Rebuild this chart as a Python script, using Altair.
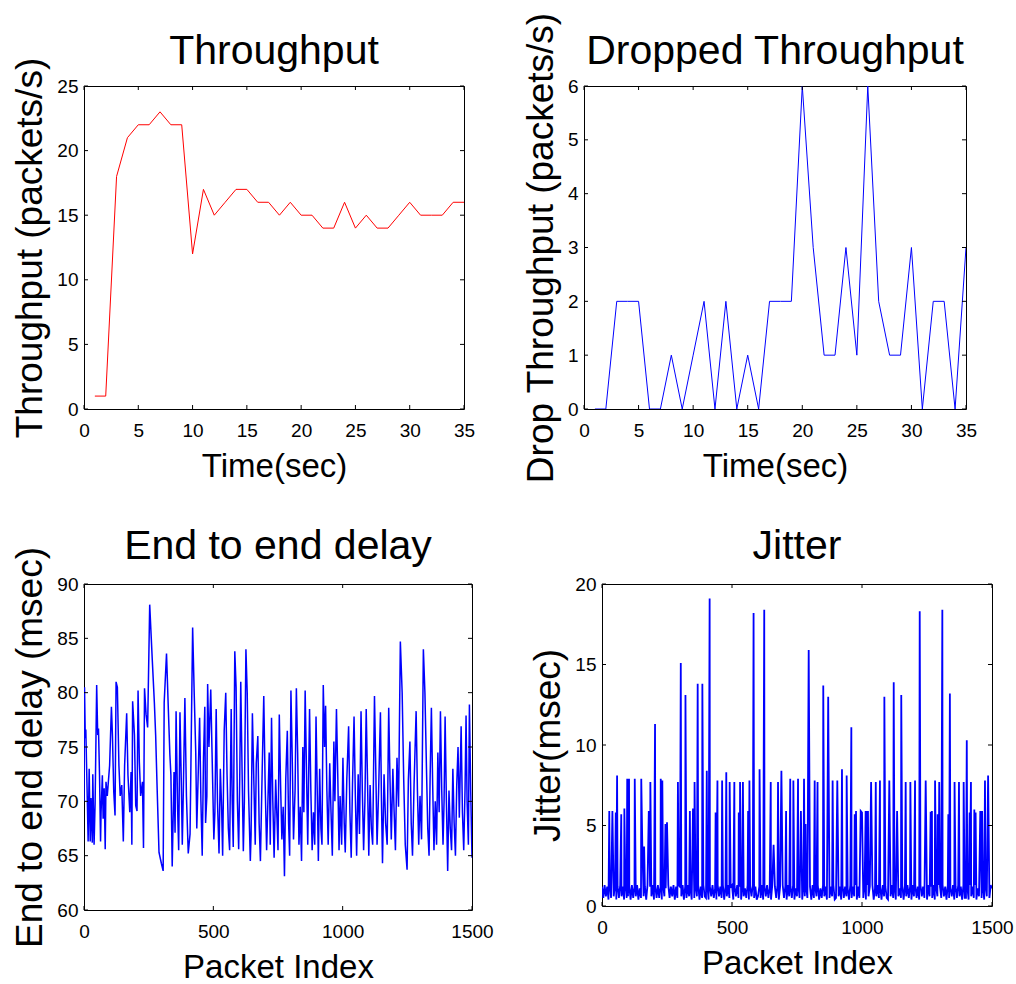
import altair as alt
import pandas as pd

FONT = "Liberation Sans"
RED = "#ff0000"
BLUE = "#0000ff"

# ---- Throughput (packets/s), one sample per second ----
tp_time = list(range(1, 36))
tp_rate = [1, 1, 18, 21, 22, 22, 23, 22, 22, 12, 17, 15, 16, 17, 17, 16, 16, 15,
           16, 15, 15, 14, 14, 16, 14, 15, 14, 14, 15, 16, 15, 15, 15, 16, 16]

# ---- Dropped throughput (packets/s) ----
drop_time = list(range(1, 36))
drop_rate = [0, 0, 2, 2, 2, 0, 0, 1, 0, 1, 2, 0, 2, 0, 1, 0, 2, 2, 2, 6, 3, 1, 1,
             3, 1, 6, 2, 1, 1, 3, 0, 2, 2, 0, 3]

# ---- End to end delay (msec): turning points of the trace (packet, msec) ----
delay_samples = [
    (0, 70.0), (2, 80.5), (5, 75.8), (7, 76.6), (10, 73.2), (13, 69.9), (16, 66.3),
    (20, 73.0), (24, 66.3), (27, 70.3), (32, 66.2), (34, 72.5), (39, 66.0), (43, 69.9),
    (49, 80.7), (53, 76.1), (56, 76.7), (60, 72.4), (64, 66.3), (66, 69.0), (71, 72.4),
    (74, 68.4), (78, 71.2), (82, 65.6), (85, 71.8), (90, 70.5), (99, 73.3), (106, 78.7),
    (110, 76.0), (115, 70.9), (120, 68.7), (124, 81.0), (129, 80.5), (135, 73.3),
    (140, 70.5), (146, 71.5), (152, 66.3), (157, 73.3), (165, 78.1), (170, 72.4),
    (177, 69.0), (182, 72.7), (185, 66.0), (188, 79.2), (195, 76.1), (200, 69.6),
    (205, 69.1), (209, 80.2), (214, 73.6), (219, 70.5), (226, 71.8), (230, 65.7),
    (234, 80.4), (240, 78.0), (246, 76.8), (254, 88.1), (264, 83.0), (272, 79.1),
    (277, 76.1), (282, 71.8), (290, 65.3), (299, 64.3), (306, 63.6), (310, 79.1),
    (319, 83.6), (326, 78.5), (332, 74.3), (336, 72.4), (341, 64.0), (348, 72.7),
    (352, 67.1), (356, 78.3), (362, 69.3), (366, 65.5), (371, 78.2), (376, 72.0),
    (380, 66.0), (384, 71.0), (390, 79.5), (396, 70.5), (403, 65.2), (410, 67.0),
    (420, 86.0), (426, 80.0), (432, 74.5), (436, 67.5), (441, 72.0), (447, 77.7),
    (452, 70.0), (457, 65.0), (462, 74.0), (467, 78.7), (470, 68.0), (475, 70.5),
    (478, 80.8), (483, 75.0), (490, 80.3), (495, 74.5), (502, 66.5), (506, 69.0),
    (511, 78.5), (516, 70.0), (522, 65.2), (527, 73.0), (532, 69.5), (536, 65.0),
    (542, 76.5), (548, 80.0), (553, 72.5), (558, 67.5), (563, 65.5), (569, 78.5),
    (573, 70.0), (577, 65.8), (583, 83.8), (588, 80.5), (593, 70.0), (598, 65.6),
    (602, 72.0), (606, 81.0), (611, 73.0), (616, 65.4), (620, 70.0), (626, 84.0),
    (631, 80.0), (636, 71.0), (643, 64.5), (646, 67.0), (651, 78.1), (657, 71.5),
    (662, 66.0), (666, 73.5), (672, 76.0), (677, 68.0), (682, 64.5), (689, 73.0),
    (695, 79.7), (700, 72.0), (706, 65.5), (711, 70.0), (716, 74.5), (720, 66.0),
    (725, 77.7), (730, 70.0), (735, 64.8), (741, 72.0), (746, 68.5), (750, 65.5),
    (755, 78.0), (760, 71.5), (765, 66.5), (770, 69.5), (775, 63.1), (780, 72.0),
    (786, 76.5), (791, 68.0), (795, 65.0), (800, 80.2), (805, 74.0), (810, 66.5),
    (816, 71.0), (821, 80.4), (826, 74.5), (831, 66.0), (836, 69.5), (841, 64.5),
    (846, 75.0), (850, 69.0), (855, 80.2), (860, 73.0), (865, 66.0), (872, 78.5),
    (877, 71.0), (882, 65.5), (887, 69.0), (892, 66.0), (897, 77.8), (902, 70.5),
    (906, 64.5), (911, 73.0), (916, 67.5), (920, 66.0), (925, 80.7), (930, 75.0),
    (934, 78.8), (939, 71.0), (944, 66.0), (950, 73.5), (955, 69.0), (960, 65.0),
    (966, 75.5), (970, 70.0), (976, 78.5), (981, 72.5), (986, 65.5), (990, 70.5),
    (996, 66.0), (1001, 74.0), (1006, 68.0), (1010, 65.3), (1016, 72.0), (1023, 76.9),
    (1028, 69.0), (1033, 64.8), (1038, 71.5), (1044, 77.8), (1049, 70.5), (1054, 65.0),
    (1060, 72.5), (1065, 67.0), (1071, 78.3), (1076, 71.0), (1081, 65.5), (1086, 70.0),
    (1091, 78.5), (1096, 72.0), (1101, 65.0), (1106, 71.5), (1111, 67.5), (1116, 66.0),
    (1123, 79.7), (1128, 73.0), (1133, 66.0), (1139, 71.0), (1146, 78.2), (1150, 70.0),
    (1154, 64.3), (1160, 72.5), (1166, 68.0), (1172, 66.0), (1178, 78.6), (1183, 72.0),
    (1188, 66.5), (1194, 73.0), (1199, 69.0), (1204, 65.5), (1210, 74.0), (1216, 69.5),
    (1223, 84.7), (1230, 80.0), (1236, 72.0), (1242, 66.0), (1249, 63.7), (1254, 72.0),
    (1260, 75.5), (1265, 68.0), (1270, 65.0), (1276, 71.5), (1284, 78.3), (1289, 71.0),
    (1294, 66.0), (1299, 70.5), (1305, 66.5), (1312, 84.0), (1318, 80.0), (1324, 73.0),
    (1329, 67.5), (1334, 65.0), (1338, 72.0), (1343, 78.6), (1348, 71.5), (1353, 65.5),
    (1358, 70.0), (1363, 66.0), (1368, 74.5), (1373, 69.0), (1378, 78.3), (1383, 71.0),
    (1388, 66.0), (1392, 70.0), (1396, 77.8), (1401, 70.0), (1406, 63.6), (1411, 71.0),
    (1416, 67.5), (1421, 65.5), (1426, 73.0), (1431, 68.0), (1436, 65.0), (1441, 71.5),
    (1446, 75.0), (1451, 68.5), (1458, 76.9), (1463, 69.0), (1468, 65.5), (1473, 71.0),
    (1477, 77.9), (1481, 70.0), (1486, 66.0), (1490, 78.9), (1495, 71.0), (1500, 64.8),
]

# ---- Jitter (msec): floor level sampled every 5 packets ----
jitter_floor_step = 5
jitter_floor = [
    1.2, 0.5, 1.3, 0.6, 1.2, 0.4, 1.3, 0.5, 1.1, 0.6, 1.3, 0.4, 1.2, 0.5, 1.3, 0.6, 1.2, 0.4, 1.3, 0.5,
    0.6, 1.2, 0.4, 1.3, 0.5, 1.2, 0.6, 1.3, 0.4, 1.1, 0.5, 1.3, 0.6, 1.2, 0.4, 1.3, 0.5, 1.2, 0.6, 1.3,
    0.4, 1.2, 0.5, 1.3, 0.5, 1.2, 0.4, 1.3, 0.6, 1.1, 0.4, 1.3, 0.5, 1.2, 0.6, 1.3, 0.4, 1.2, 0.5, 1.3,
    1.2, 0.6, 1.3, 0.4, 1.2, 0.5, 1.3, 0.6, 1.1, 0.4, 1.3, 0.5, 1.2, 0.6, 1.3, 0.4, 1.2, 0.5, 1.3, 0.6,
    0.5, 1.3, 0.4, 1.2, 0.6, 1.3, 0.5, 1.1, 0.4, 1.3, 0.6, 1.2, 0.5, 1.3, 0.4, 1.2, 0.6, 1.3, 0.5, 1.2,
    1.3, 0.4, 1.2, 0.6, 1.3, 0.5, 1.2, 0.4, 1.3, 0.6, 1.1, 0.5, 1.3, 0.4, 1.2, 0.6, 1.3, 0.5, 1.2, 0.4,
    0.6, 1.2, 0.5, 1.3, 0.4, 1.2, 0.6, 1.3, 0.5, 1.1, 0.4, 1.3, 0.6, 1.2, 0.5, 1.3, 0.4, 1.2, 0.6, 1.3,
    0.5, 1.2, 0.4, 1.3, 0.6, 1.2, 0.5, 1.3, 0.4, 1.1, 0.6, 1.3, 0.5, 1.2, 0.4, 1.3, 0.6, 1.2, 0.5, 1.3,
    1.2, 0.4, 1.3, 0.5, 1.2, 0.6, 1.3, 0.4, 1.1, 0.5, 1.3, 0.6, 1.2, 0.4, 1.3, 0.5, 1.2, 0.6, 1.3, 0.4,
    0.5, 1.3, 0.6, 1.2, 0.4, 1.3, 0.5, 1.2, 0.6, 1.1, 0.4, 1.3, 0.5, 1.2, 0.6, 1.3, 0.4, 1.2, 0.5, 1.3,
    1.3, 0.5, 1.2, 0.4, 1.3, 0.6, 1.2, 0.5, 1.3, 0.4, 1.1, 0.6, 1.3, 0.5, 1.2, 0.4, 1.3, 0.6, 1.2, 0.5,
    0.4, 1.2, 0.6, 1.3, 0.5, 1.2, 0.4, 1.3, 0.6, 1.1, 0.5, 1.3, 0.4, 1.2, 0.6, 1.3, 0.5, 1.2, 0.4, 1.3,
    0.6, 1.3, 0.5, 1.2, 0.4, 1.3, 0.6, 1.2, 0.5, 1.1, 0.4, 1.3, 0.6, 1.2, 0.5, 1.3, 0.4, 1.2, 0.6, 1.3,
    1.2, 0.5, 1.3, 0.6, 1.2, 0.4, 1.3, 0.5, 1.1, 0.6, 1.3, 0.4, 1.2, 0.5, 1.3, 0.6, 1.2, 0.4, 1.3, 0.5,
    0.5, 1.2, 0.4, 1.3, 0.6, 1.2, 0.5, 1.3, 0.4, 1.1, 0.6, 1.3, 0.5, 1.2, 0.4, 1.3, 0.6, 1.2, 0.5, 1.3,
    1.1,
]
# Jitter spikes (packet, msec)
jitter_spikes = [
    (28, 5.9), (40, 5.9), (53, 5.8), (58, 8.1), (74, 5.7), (86, 6.05), (97, 7.9), (104, 7.9),
    (126, 7.9), (151, 7.9), (155, 3.8), (162, 3.7), (180, 5.9), (186, 7.7), (204, 11.3),
    (226, 7.9), (232, 7.8), (244, 5.1), (250, 5.2), (292, 7.7), (303, 15.1), (321, 13.1),
    (338, 5.9), (350, 6.05), (356, 7.7), (368, 13.8), (386, 13.8), (403, 8.4), (414, 19.1),
    (437, 5.8), (444, 7.8), (462, 7.8), (478, 8.3), (491, 7.7), (509, 7.7), (526, 5.8),
    (531, 7.7), (542, 7.7), (562, 5.9), (567, 7.8), (583, 18.2), (606, 8.5), (624, 18.4),
    (649, 7.7), (660, 3.8), (677, 7.7), (690, 8.4), (708, 5.9), (724, 7.9), (736, 7.8),
    (754, 7.9), (765, 5.9), (777, 7.9), (783, 5.1), (795, 15.9), (818, 7.8), (829, 7.7),
    (851, 13.7), (870, 13.0), (887, 7.8), (905, 7.8), (923, 8.5), (941, 8.1), (959, 11.1),
    (972, 5.7), (977, 5.9), (995, 5.9), (1000, 5.8), (1014, 5.9), (1019, 5.9), (1023, 5.9),
    (1035, 7.7), (1053, 7.7), (1069, 7.8), (1086, 13.0), (1105, 7.8), (1122, 13.9),
    (1135, 5.9), (1151, 13.1), (1168, 7.7), (1186, 7.7), (1204, 7.8), (1222, 18.3),
    (1245, 7.8), (1264, 5.85), (1269, 5.9), (1281, 7.8), (1291, 5.7), (1297, 7.7),
    (1309, 18.4), (1332, 5.7), (1338, 13.2), (1356, 7.7), (1373, 7.7), (1391, 7.7),
    (1403, 10.3), (1414, 5.8), (1419, 7.7), (1432, 6.0), (1437, 5.8), (1455, 5.9),
    (1462, 5.9), (1473, 7.8), (1485, 8.1),
]

# ---- assemble tables ----
tp_df = pd.DataFrame({"x": tp_time, "y": tp_rate})
drop_df = pd.DataFrame({"x": drop_time, "y": drop_rate})
delay_df = pd.DataFrame(delay_samples, columns=["x", "y"])

jit = {i * jitter_floor_step: v for i, v in enumerate(jitter_floor)}
for k, v in jitter_spikes:
    jit[k] = v
jitter_df = pd.DataFrame(sorted(jit.items()), columns=["x", "y"])

TICK = 4  # inward tick length in px


def panel(df, color, width_px, xdom, ydom, xticks, yticks, title, title_dy,
          xtitle, ytitle, w, h):
    xs = alt.Scale(domain=xdom, nice=False, zero=False)
    ys = alt.Scale(domain=ydom, nice=False, zero=False)
    xax = alt.Axis(values=xticks, title=xtitle, format="d")
    yax = alt.Axis(values=yticks, title=ytitle, format="d")
    line = alt.Chart(df).mark_line(color=color, strokeWidth=width_px, clip=True).encode(
        x=alt.X("x:Q", scale=xs, axis=xax),
        y=alt.Y("y:Q", scale=ys, axis=yax),
    )
    xt = pd.DataFrame({"x": xticks})
    yt = pd.DataFrame({"y": yticks})
    tick = dict(color="black", strokeWidth=1)
    bottom = alt.Chart(xt).mark_rule(**tick).encode(
        x=alt.X("x:Q", scale=xs, axis=xax), y=alt.value(h), y2=alt.value(h - TICK))
    top = alt.Chart(xt).mark_rule(**tick).encode(
        x=alt.X("x:Q", scale=xs, axis=xax), y=alt.value(0), y2=alt.value(TICK))
    left = alt.Chart(yt).mark_rule(**tick).encode(
        y=alt.Y("y:Q", scale=ys, axis=yax), x=alt.value(0), x2=alt.value(TICK))
    right = alt.Chart(yt).mark_rule(**tick).encode(
        y=alt.Y("y:Q", scale=ys, axis=yax), x=alt.value(w), x2=alt.value(w - TICK))
    # panel heading, centred over the plot frame
    heading = alt.Chart(pd.DataFrame({"t": [title]})).mark_text(
        font=FONT, fontSize=41, color="black", align="center", baseline="alphabetic",
    ).encode(text="t:N", x=alt.value(w / 2), y=alt.value(title_dy))
    return alt.layer(line, bottom, top, left, right, heading).properties(width=w, height=h)


sec_ticks = [0, 5, 10, 15, 20, 25, 30, 35]
pkt_ticks = [0, 500, 1000, 1500]

p1 = panel(tp_df, RED, 1, [0, 35], [0, 25], sec_ticks, [0, 5, 10, 15, 20, 25],
           "Throughput", -22, "Time(sec)", "Throughput (packets/s)", 380, 323)
p2 = panel(drop_df, BLUE, 1, [0, 35], [0, 6], sec_ticks, [0, 1, 2, 3, 4, 5, 6],
           "Dropped Throughput", -22, "Time(sec)", "Drop Throughput (packets/s)", 382, 323)
p3 = panel(delay_df, BLUE, 1.5, [0, 1500], [60, 90], pkt_ticks, [60, 65, 70, 75, 80, 85, 90],
           "End to end delay", -25, "Packet Index", "End to end delay (msec)", 388, 326)
p4 = panel(jitter_df, BLUE, 1.8, [0, 1500], [0, 20], pkt_ticks, [0, 5, 10, 15, 20],
           "Jitter", -25, "Packet Index", "Jitter(msec)", 390, 322)

chart = alt.vconcat(
    alt.hconcat(p1, p2, spacing=45),
    alt.hconcat(p3, p4, spacing=35),
    spacing=41,
).properties(
    padding={"left": 11, "top": 11, "right": 0, "bottom": 0},
    background="white",
).configure(font=FONT).configure_view(
    stroke="black", strokeWidth=1
).configure_axis(
    grid=False, domain=False, ticks=False, tickSize=0,
    labelFont=FONT, labelFontSize=19, labelColor="black",
    labelFlush=False, labelOverlap=False,
    titleFont=FONT, titleFontWeight="normal", titleColor="black",
).configure_axisX(
    labelPadding=12.5, titlePadding=10, titleFontSize=33, titleBaseline="top",
).configure_axisY(
    labelPadding=6, titlePadding=7, titleFontSize=37, titleBaseline="bottom",
)

chart.save("out.html", embed_options={"renderer": "svg", "actions": False})
